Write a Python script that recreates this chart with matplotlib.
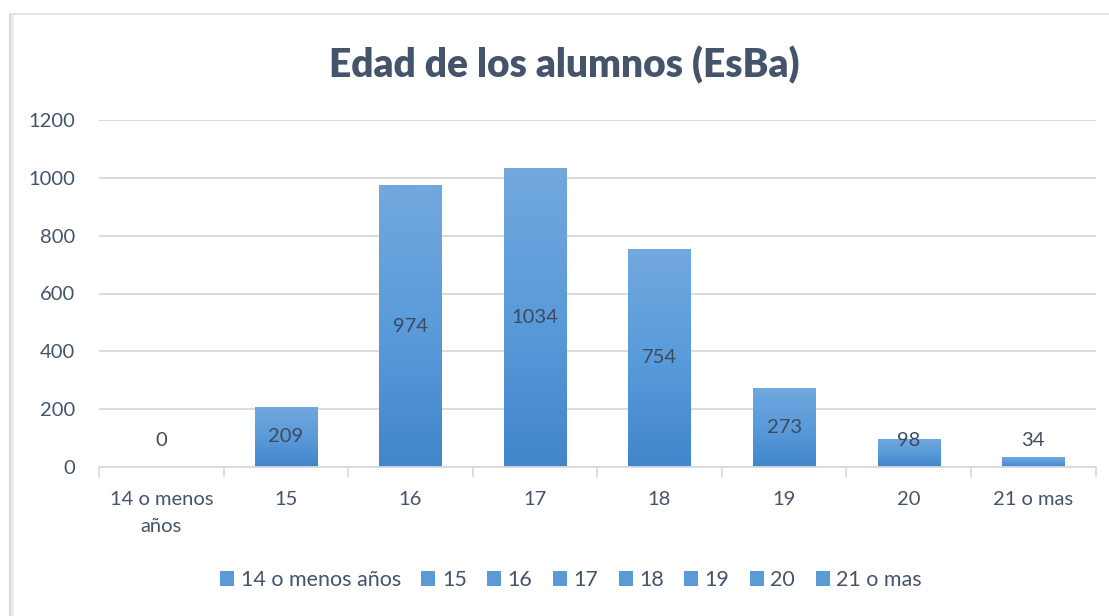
import matplotlib
matplotlib.use("Agg")
import matplotlib.pyplot as plt
import numpy as np
from matplotlib.lines import Line2D
from matplotlib.patches import Rectangle
from matplotlib.colors import LinearSegmentedColormap

categories = ["14 o menos\naños", "15", "16", "17", "18", "19", "20", "21 o mas"]
legend_labels = ["14 o menos años", "15", "16", "17", "18", "19", "20", "21 o mas"]
values = [0, 209, 974, 1034, 754, 273, 98, 34]
yticks = [0, 200, 400, 600, 800, 1000, 1200]

plt.rcParams['font.family'] = ['Lato', 'DejaVu Sans']
text_color = "#44546A"
grid_color = "#D9D9D9"

fig = plt.figure(figsize=(11.09, 6.16), dpi=100)
ax = fig.add_axes([99/1109, 1-467/616, (1095.5-99)/1109, (467-120)/616])

cmap = LinearSegmentedColormap.from_list("g", ["#4185CB", "#5A9BDA", "#72A8DE"])
x = np.arange(len(values))
bars = ax.bar(x, values, width=0.5, color="#5B9BD5", zorder=2)
grad = np.linspace(0, 1, 256).reshape(-1, 1)
for b in bars:
    if b.get_height() <= 0:
        continue
    x0, w, h = b.get_x(), b.get_width(), b.get_height()
    im = ax.imshow(grad, cmap=cmap, aspect='auto', origin='lower',
                   extent=[x0, x0 + w, 0, h], zorder=3, interpolation='bilinear')
    im.set_clip_path(b)

for xi, v in zip(x, values):
    ypos = max(v / 2, 90)
    ax.text(xi, ypos, str(v), ha='center', va='center', fontsize=14.5,
            color="#404A5A", zorder=5)

ax.set_xlim(-0.5, len(values) - 0.5)
ax.set_ylim(0, 1200)
ax.set_yticks(yticks)
ax.set_yticklabels([str(t) for t in yticks])
ax.set_xticks(x)
ax.set_xticklabels(categories, fontsize=14.5, color=text_color, linespacing=1.75)
ax.tick_params(axis='y', length=0, labelsize=14.5, labelcolor=text_color, pad=17)
ax.tick_params(axis='x', length=0, pad=17)
# minor ticks at category boundaries
ax.set_xticks(np.arange(-0.5, len(values) + 0.5, 1), minor=True)
ax.tick_params(axis='x', which='minor', length=7, width=1.2, color=grid_color, direction='out')

ax.grid(axis='y', color=grid_color, linewidth=1.3, zorder=0)
ax.set_axisbelow(True)
for s in ['top', 'right', 'left']:
    ax.spines[s].set_visible(False)
ax.spines['bottom'].set_color(grid_color)
ax.spines['bottom'].set_linewidth(1.3)
ax.spines['bottom'].set_zorder(4)

fig.text(564/1109, 1-65/616, "Edad de los alumnos (EsBa)", ha='center', va='center',
         fontsize=28, fontweight='heavy', color=text_color)

handles = [Rectangle((0, 0), 1, 1, facecolor="#5B9BD5") for _ in legend_labels]
leg = fig.legend(handles, legend_labels, loc='center', bbox_to_anchor=(571/1109, 1-580/616),
                 ncol=8, frameon=False, fontsize=15.5, handlelength=0.65, handleheight=0.65,
                 handletextpad=0.3, columnspacing=0.95, labelcolor=text_color)

# chart area border (top & left visible)
fig.add_artist(Line2D([10/1109, 10/1109], [0, 1-14/616], transform=fig.transFigure,
                      color="#D0D0D0", linewidth=1.2))
fig.add_artist(Line2D([12/1109, 12/1109], [0, 1-16/616], transform=fig.transFigure,
                      color="#ECECEC", linewidth=2))
fig.add_artist(Line2D([10/1109, 1], [1-14/616, 1-14/616], transform=fig.transFigure,
                      color="#E0E0E0", linewidth=1.2))

fig.savefig("out.png", dpi=100)
